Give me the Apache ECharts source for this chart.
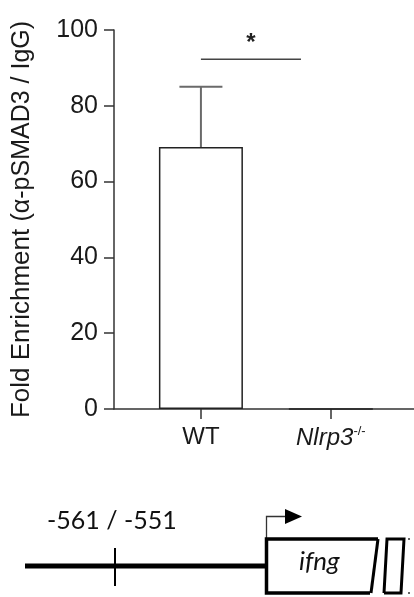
<!DOCTYPE html>
<html>
<head>
<meta charset="utf-8">
<script src="https://cdn.jsdelivr.net/npm/echarts@6/dist/echarts.min.js"></script>
<style>
  html, body { margin: 0; padding: 0; background: #fff; }
  #chart { width: 414px; height: 597px; }
</style>
</head>
<body>
<div id="chart"></div>
<script>
// data
let categories = ['WT', 'Nlrp3'];
let foldValues = [69.1, 0];
let errorTops = [85.0, null];
let yTicks = [0, 20, 40, 60, 80, 100];
let sigBar = { from: 0, to: 0.77, y: 92.3, label: '*' };

let chart = echarts.init(document.getElementById('chart'));

// bar positions: index i sits at x = i on a value axis
let barData = foldValues.map((v, i) => [i, v]);
let errData = errorTops.map((v, i) => [i, foldValues[i], v]).filter(d => d[2] != null);

const option = {
    backgroundColor: '#fff',
    animation: false,
    grid: { left: 114, right: 0, top: 30, bottom: 188 },
    xAxis: {
        type: 'value',
        min: -0.669,
        max: 1.64,
        splitLine: { show: false },
        axisLine: { onZero: false, lineStyle: { color: '#333', width: 1.5 } },
        axisTick: {
            customValues: [0, 1],
            length: 10,
            lineStyle: { color: '#333', width: 1.5 }
        },
        axisLabel: {
            customValues: [0, 1],
            margin: 16,
            fontFamily: 'Liberation Sans',
            fontSize: 24,
            color: '#1a1a1a',
            formatter: function (v) {
                let name = categories[Math.round(v)];
                if (name === 'Nlrp3') return '{i|Nlrp3}{s|-/-}';
                return name;
            },
            rich: {
                i: { fontFamily: 'Liberation Sans', fontStyle: 'italic', fontSize: 24, color: '#1a1a1a' },
                s: { fontFamily: 'Liberation Sans', fontSize: 13, color: '#1a1a1a', padding: [0, 0, 13, 0] }
            }
        }
    },
    yAxis: {
        type: 'value',
        min: 0,
        max: 100,
        interval: 20,
        splitLine: { show: false },
        axisLine: { show: true, onZero: false, lineStyle: { color: '#333', width: 1.5 } },
        axisTick: { show: true, length: 10, lineStyle: { color: '#333', width: 1.5 } },
        axisLabel: {
            margin: 16,
            fontFamily: 'Liberation Sans',
            fontSize: 25,
            color: '#1a1a1a',
            formatter: v => yTicks.includes(v) ? String(v) : ''
        },
        name: '{a|Fold Enrichment }{b|(α-pSMAD3 / IgG)}',
        nameLocation: 'middle',
        nameGap: 79,
        nameTextStyle: {
            rich: {
                a: { fontFamily: 'Liberation Sans', fontSize: 26, color: '#1a1a1a' },
                b: { fontFamily: 'Liberation Sans', fontSize: 25, color: '#1a1a1a' }
            }
        }
    },
    series: [
        {
            type: 'bar',
            data: barData,
            barWidth: 84,
            itemStyle: { color: '#fff', borderColor: '#222', borderWidth: 1.5 },
            z: 2
        },
        {
            type: 'custom',
            data: errData,
            z: 1,
            renderItem: function (params, api) {
                let base = api.coord([api.value(0), api.value(1)]);
                let top = api.coord([api.value(0), api.value(2)]);
                let half = 21.5;
                let st = { stroke: '#6a6a6a', lineWidth: 2 };
                return {
                    type: 'group',
                    children: [
                        { type: 'line', shape: { x1: base[0], y1: base[1], x2: top[0], y2: top[1] }, style: st },
                        { type: 'line', shape: { x1: top[0] - half, y1: top[1], x2: top[0] + half, y2: top[1] }, style: st }
                    ]
                };
            }
        },
        {
            type: 'custom',
            data: [[sigBar.from, sigBar.to, sigBar.y]],
            renderItem: function (params, api) {
                let a = api.coord([api.value(0), api.value(2)]);
                let b = api.coord([api.value(1), api.value(2)]);
                return {
                    type: 'group',
                    children: [
                        { type: 'line', shape: { x1: a[0], y1: a[1], x2: b[0], y2: b[1] }, style: { stroke: '#444', lineWidth: 1.5 } },
                        {
                            type: 'text',
                            style: {
                                text: sigBar.label,
                                x: (a[0] + b[0]) / 2,
                                y: a[1] - 16,
                                align: 'center',
                                verticalAlign: 'middle',
                                font: 'bold 24px "Liberation Sans"',
                                fill: '#222'
                            }
                        }
                    ]
                };
            }
        }
    ],
    // gene diagram below the plot
    graphic: [
        { type: 'line', shape: { x1: 25, y1: 566, x2: 267, y2: 566 }, style: { stroke: '#000', lineWidth: 5 } },
        { type: 'line', shape: { x1: 115, y1: 548, x2: 115, y2: 586 }, style: { stroke: '#000', lineWidth: 2 } },
        {
            type: 'text', left: 47, top: 508,
            style: { text: '-561 / -551', font: '25px Lato', fill: '#111' }
        },
        {
            type: 'polyline',
            shape: { points: [[266.5, 539], [266.5, 516.5], [286, 516.5]] },
            style: { stroke: '#333', lineWidth: 1.3, fill: null }
        },
        {
            type: 'polygon',
            shape: { points: [[285, 509], [302, 516.5], [285, 524]] },
            style: { fill: '#000' }
        },
        {
            type: 'polyline',
            shape: { points: [[378, 539], [266.5, 539], [266.5, 593], [370, 593]] },
            style: { stroke: '#000', lineWidth: 3.5, fill: null }
        },
        { type: 'line', shape: { x1: 378, y1: 539, x2: 371, y2: 593 }, style: { stroke: '#000', lineWidth: 3 } },
        {
            type: 'polyline',
            shape: { points: [[384, 593], [387, 539], [404, 539], [401, 593], [384, 593]] },
            style: { stroke: '#000', lineWidth: 3, fill: null }
        },
        { type: 'circle', shape: { cx: 409, cy: 539, r: 1 }, style: { fill: '#333' } },
        { type: 'circle', shape: { cx: 409, cy: 593, r: 1 }, style: { fill: '#333' } },
        {
            type: 'text', left: 299, top: 549,
            style: { text: 'ifng', font: 'italic 26px Lato', fill: '#111' }
        }
    ]
};

chart.setOption(option);
</script>
</body>
</html>
